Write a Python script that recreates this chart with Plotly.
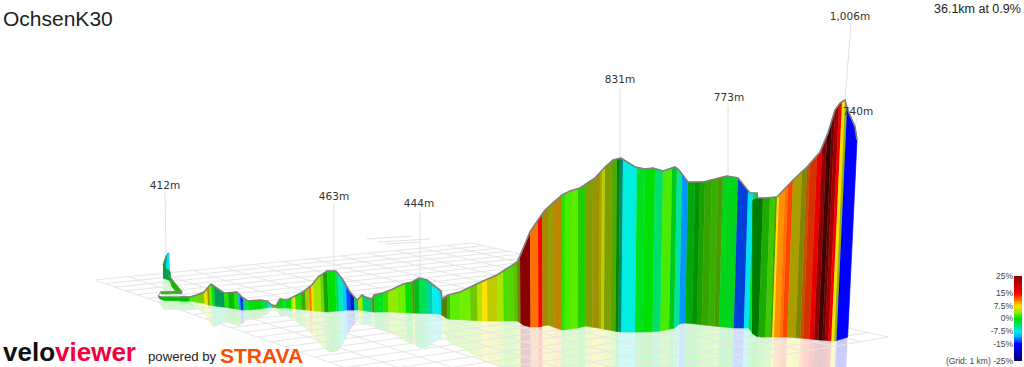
import numpy as np
import plotly.graph_objects as go
from plotly.colors import sample_colorscale

# ---- profile (apparent km along the view, apparent metres)
top_km = [1.1,1.6,1.95,2.3,2.65,2.95,3.3,3.95,4.25,4.5,5.1,5.45,5.7,5.9,6.1,6.45,6.85,7.25,7.7,8.0,8.45,8.9,9.25,9.6,9.95,
          10.2,10.35,10.7,10.8,11.25,11.75,12.25,12.7,13.05,13.45,13.75,14.15,14.2,14.5,15.1,15.6,16.25,16.95,17.75,17.95,
          18.1,18.6,19.0,19.35,20.2,20.6,21.1,21.45,21.85,22.35,22.75,23.15,23.85,24.35,24.75,25.25,25.85,26.05,26.5,27.25,
          28.45,29.0,29.6,29.95,29.98,30.35,30.95,31.75,32.45,33.1,33.5,33.85,34.1,34.35,34.45,34.85,34.95]
top_m = [415,415,421,430,454,442,427,430,412,403,406,403,391,388,409,406,418,430,451,475,493,493,466,430,406,
         421,415,409,421,427,439,454,460,472,466,451,433,409,421,430,445,463,481,511,520,
         538,610,646,676,721,733,742,757,772,805,826,832,805,799,802,793,805,796,760,760,
         778,772,727,727,712,712,715,766,805,850,907,976,997,1006,982,925,886]
floor_km = [1.1,1.6,2.25,2.5,3.25,3.95,4.25,5.1,5.6,5.95,6.45,7.45,8.45,9.45,10.1,10.75,11.75,12.7,14.1,14.5,16.25,18.0,
            18.25,18.6,19.0,19.5,20.2,21.0,21.35,22.0,23.1,24.35,25.1,25.85,26.1,26.45,28.25,28.85,29.6,29.7,30.1,31.45,
            32.1,33.1,33.85,34.5]
floor_m = [403,403,397,391,385,379,376,379,385,382,382,376,370,376,376,370,370,367,364,349,343,343,
           331,325,325,331,316,322,328,322,310,310,313,322,337,337,325,322,322,307,295,295,
           292,286,283,295]

# ---- gradient bands along the route
band_end = [1.6,1.95,2.3,2.45,2.55,2.65,2.8,3.3,3.5,3.8,4.0,4.1,4.25,4.5,5.2,5.5,5.7,5.95,6.25,6.35,6.65,6.75,6.85,7.15,7.35,
            7.55,7.65,7.75,8.1,8.25,8.45,8.85,9.0,9.2,9.4,9.6,9.8,10.0,10.2,10.25,10.7,10.8,11.25,11.5,11.95,12.35,12.7,12.8,
            13.05,13.45,13.7,14.0,14.15,14.45,14.6,15.1,15.6,15.95,16.2,16.45,16.95,17.25,17.5,17.75,17.95,18.1,18.6,19.0,19.2,
            19.5,19.8,20.2,20.35,20.7,21.0,21.4,21.75,22.1,22.2,22.35,22.7,22.95,23.1,23.25,23.95,24.35,24.85,25.25,25.7,25.95,
            26.2,26.5,26.85,27.1,27.35,27.7,28.0,28.25,29.0,29.5,29.75,29.95,30.25,30.6,30.85,30.95,31.05,31.35,31.5,31.75,32.2,
            32.45,32.6,32.95,33.2,33.45,33.7,33.85,34.05,34.2,34.35,34.45,34.95]
band_grade = [0,2,3.5,7,6,3,-1,-4,1,0,1,-10,-13.5,-3,0,-2,-8,3,0,-3,0,4,7.5,1,2.5,
              5,11,7,4.5,3,1,0,-3,-6,-9,-13,-14,-5,5,1,-4,5,-1,1,4,3,0,5,
              -1,-3,-6,-7.5,-8,4,2,2.5,3,3.5,5,7.5,6,4.5,2,2.5,3,5,25,11,15,
              8,6,9,1,2,2.5,1,5,7,6,6,5,3,0,-6,-7,-1,0,-3.5,2,-1,
              -5,-11,-0.5,0,1,2,2,3,-1,-13,-8,-2,0,1,2,2.5,7.5,10,11,12.5,7,
              6,11,13,17,23,25,25,23,16,7.5,5,-15]
band_light = [1,1,.9,1,.7,1,1,.7,1,.85,1,1,.95,1,1,1,1,.8,1,1,1,1,1,1,.7,
              .9,1,1,1,.9,.7,1,1,1,1,1,.8,.9,1,1,.95,.6,1,1,1,1,1,.6,
              .85,1,.9,1,1,.55,.8,1,1,.85,1,1,.9,1,.95,.9,.8,.6,1,1,1,
              .65,.7,.75,1,1,1,.9,.7,.65,.75,.9,.7,.7,.6,.6,1,1,1,1,1,.9,
              1,1,.75,.65,.7,.7,.75,.65,.95,.85,1,1,.55,.75,.85,.7,1,1,1,1,.7,
              .6,.75,.85,1,.9,.45,.8,1,1,1,.8,1]

# ---- the hook at the start of the route, and the nearer wall after the step at 30 km
hook_km = [[.425,.55,.575,.375],[.25,.425,.375,.6,.65,.25],[.45,.85,1.2,.95,.7,.6],[.1,1.2,1.2,.15],[0,.2,1.5,1.5,.3,.05],[29.72,29.98,29.98,29.7]]
hook_m = [[544,547,496,502],[511,541,502,493,463,472],[487,457,430,427,445,463],[430,433,425,424],[418,415,415,403,404.5,410.5],[705,712,295,307]]
hook_grade = [-8,-4,1,1,0,0]
hook_light = [1,.7,.8,.85,.85,.55]
hook_crest_km = [[.25,.425,.55],[.45,.85,1.2,.15,0,.2,1.5]]
hook_crest_m = [[511,541,547],[487,457,430,430,418,415,415]]

# ---- labelled points
peak_text = ["412m","463m","444m","831m","773m","1,006m","740m"]
peak_km = [0.4,8.8,13.1,23.1,28.5,34.35,34.85]
peak_m = [547,493,472,832,778,1006,925]
label_km = [0.35,8.8,13.05,23.1,28.55,34.6,35.0]
label_m = [748,715,694,1066,1012,1255,970]
leader_end_km = [0.35,8.8,13.1,23.1,28.5,34.65,34.95]
leader_end_m = [730,694,673,1045,988,1234,952]

scale_ticks = [25,15,7.5,0,-7.5,-15,-25]
scale_text = ["25%","15%","7.5%","0%","-7.5%","-15%","(Grid: 1 km) -25%"]

# floor corners: left, far, right, near
floor_corner_km = [-3.15,15.7,36.5,15.35]
floor_corner_m = [466,577,295,76]
far_dash_km = [[10.45,12.7],[11.0,13.6],[11.35,13.1]]
far_dash_m = [[589,598],[580,589],[574,580]]

GRID_U, GRID_V = 13, 27
LEAN = 5.33e-5
LEAN_ORIGIN = 20.1

stops = [(-25,"#000070"),(-15,"#0000ff"),(-11,"#0098ff"),(-7.5,"#00f0f0"),(-4,"#00e078"),(0,"#00e000"),
         (3,"#70f000"),(5.5,"#c8e000"),(7.5,"#ffe000"),(11,"#ff7000"),(15,"#ff0000"),(25,"#8a0000")]
colorscale = [[(g+25)/50,c] for g,c in stops]

def rgb(grade, light=1.0, alpha=None):
    s = sample_colorscale(colorscale, [(grade+25)/50], colortype="rgb")[0]
    r,g,b = [float(v)*light for v in s[s.index("(")+1:-1].split(",")]
    if alpha is None:
        return f"rgb({r:.0f},{g:.0f},{b:.0f})"
    return f"rgba({r:.0f},{g:.0f},{b:.0f},{alpha})"

fig = go.Figure()

def poly(xs, ys, fill, line=None):
    fig.add_trace(go.Scatter(x=xs,y=ys,mode="lines",fill="toself",fillcolor=fill,hoverinfo="skip",showlegend=False,
                             line=dict(color=line or "rgba(0,0,0,0)",width=0.7 if line else 0)))

def foot(k):
    t = np.interp(k, top_km, top_m)
    f = np.interp(k, floor_km, floor_m)
    lk = k-(k-LEAN_ORIGIN)*(t-f)*LEAN
    return t, lk, np.interp(lk, floor_km, floor_m)

walls, mirrors = [], []
start = top_km[0]
for end, grade, light in zip(band_end, band_grade, band_light):
    ks = [start]+[k for k in top_km if start<k<end]+[end]
    tx, ty, fx, fy, mx, my = [],[],[],[],[],[]
    inner = sorted(set(ks+[k for k in floor_km if start<k<end]))
    for k in inner:
        t,lk,f = foot(k)
        tx.append(k); ty.append(t); fx.append(lk); fy.append(f)
        mx.append(lk-(k-lk)); my.append(f-(t-f))
    walls.append((tx+fx[::-1], ty+fy[::-1], rgb(grade,light)))
    mirrors.append((fx+mx[::-1], fy+my[::-1], rgb(grade,1.0,0.2)))
    start = end

for xs,ys,c in mirrors:
    poly(xs,ys,c)
# pale reflection of the hook
poly([.2,.6,.7,.3],[472,490,403,403],rgb(0,1,0.15))
poly([0,1.6,1.9,.3],[403,403,376,376],rgb(0,1,0.18))

# floor grid through a projective map of the four corners
def homography(src, dst):
    A=[];b=[]
    for (u,v),(x,y) in zip(src,dst):
        A.append([u,v,1,0,0,0,-u*x,-v*x]);b.append(x)
        A.append([0,0,0,u,v,1,-u*y,-v*y]);b.append(y)
    return np.append(np.linalg.solve(np.array(A,float),np.array(b,float)),1).reshape(3,3)
H = homography([(0,0),(1,0),(1,1),(0,1)], list(zip(floor_corner_km,floor_corner_m)))
def project(u,v):
    p = H@np.array([u,v,1.0]); return p[0]/p[2],p[1]/p[2]
gx,gy=[],[]
for i in range(GRID_U+1):
    for (u,v) in [(i/GRID_U,0),(i/GRID_U,1)]:
        x,y=project(u,v); gx.append(x); gy.append(y)
    gx.append(None); gy.append(None)
for j in range(GRID_V+1):
    for (u,v) in [(0,j/GRID_V),(1,j/GRID_V)]:
        x,y=project(u,v); gx.append(x); gy.append(y)
    gx.append(None); gy.append(None)
fig.add_trace(go.Scatter(x=gx,y=gy,mode="lines",line=dict(color="#e6e6e6",width=1),hoverinfo="skip",showlegend=False))
for xs,ys in zip(far_dash_km,far_dash_m):
    fig.add_trace(go.Scatter(x=xs,y=ys,mode="lines",line=dict(color="#e2e2e2",width=1),hoverinfo="skip",showlegend=False))

# leaders
for k,m,ek,em in zip(peak_km,peak_m,leader_end_km,leader_end_m):
    fig.add_trace(go.Scatter(x=[k,ek],y=[m,em],mode="lines",line=dict(color="#e0e0e0",width=1),hoverinfo="skip",showlegend=False))

# walls, with the hook and near wall on top
for xs,ys,c in walls:
    poly(xs,ys,c,c)
for xs,ys,g,l in zip(hook_km,hook_m,hook_grade,hook_light):
    poly(xs,ys,rgb(g,l),rgb(g,l))

# crest line
fig.add_trace(go.Scatter(x=top_km,y=top_m,mode="lines",line=dict(color="#808080",width=1.6),hoverinfo="skip",showlegend=False))
for xs,ys in zip(hook_crest_km,hook_crest_m):
    fig.add_trace(go.Scatter(x=xs,y=ys,mode="lines",line=dict(color="#808080",width=1),hoverinfo="skip",showlegend=False))

# labels
fig.add_trace(go.Scatter(x=label_km,y=label_m,mode="text",text=peak_text,textposition="middle center",hoverinfo="skip",showlegend=False,
                         textfont=dict(family="DejaVu Sans",size=10.5,color="#333333")))

# gradient scale
scale_y = list(range(-25,26))
fig.add_trace(go.Heatmap(x=[0,1],y=scale_y,z=[[v,v] for v in scale_y],colorscale=colorscale,zmin=-25,zmax=25,showscale=False,
                         xaxis="x2",yaxis="y2",hoverinfo="skip"))

ann = [
 dict(x=3/1024,y=1-18/367,text="OchsenK30",font=dict(family="Liberation Sans",size=21,color="#222222"),xanchor="left"),
 dict(x=1021/1024,y=1-9/367,text="36.1km at 0.9%",font=dict(family="Liberation Sans",size=12.5,color="#222222"),xanchor="right"),
 dict(x=3/1024,y=1-352/367,text="<span style='color:#111111'>velo</span><span style='color:#f5003c'>viewer</span>",
      font=dict(family="Liberation Sans",size=26,weight=700),xanchor="left"),
 dict(x=148/1024,y=1-356/367,text="powered by",font=dict(family="Liberation Sans",size=13.2,color="#222222"),xanchor="left"),
 dict(x=220/1024,y=1-355/367,text="STRAVA",font=dict(family="Liberation Sans",size=21,color="#fc4c02",weight=900),xanchor="left"),
]
for a in ann:
    a.update(xref="paper",yref="paper",yanchor="middle",showarrow=False,borderpad=0,borderwidth=0)

fig.update_layout(
    width=1024,height=367,margin=dict(l=0,r=0,t=0,b=0,autoexpand=False),paper_bgcolor="white",plot_bgcolor="rgba(0,0,0,0)",
    showlegend=False,annotations=ann,
    xaxis=dict(range=[-7.9,43.3],visible=False,domain=[0,1]),
    yaxis=dict(range=[205,1306],visible=False,domain=[0,1]),
    xaxis2=dict(domain=[1014/1024,1022/1024],range=[0,1],visible=False,anchor="y2"),
    yaxis2=dict(domain=[6/367,91/367],range=[-25,25],anchor="x2",tickvals=scale_ticks,ticktext=scale_text,
                showline=False,showgrid=False,zeroline=False,ticks="",side="left",
                tickfont=dict(family="Liberation Sans",size=8.5,color="#444444")),
)
fig.write_html("out.html", config={"displayModeBar":False},
               post_script="document.body.style.margin='0';document.documentElement.style.overflow='hidden';")
